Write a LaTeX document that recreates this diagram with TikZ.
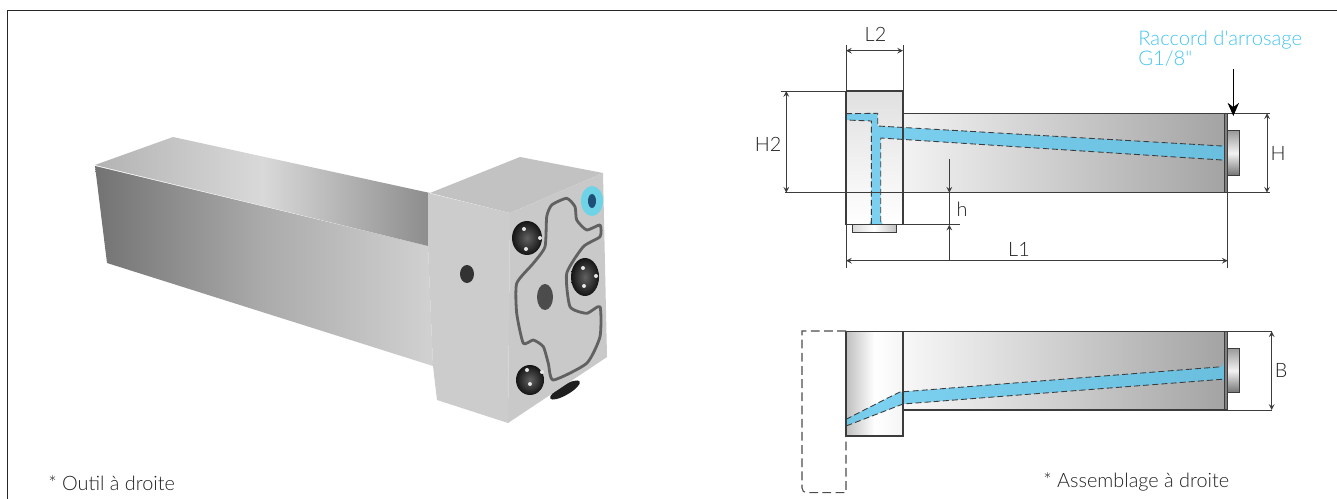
\documentclass[tikz,border=0pt]{standalone}
\usepackage{fontspec}
\setmainfont{Lato Light}[Ligatures=TeXOff]
\usetikzlibrary{arrows.meta}
\definecolor{coolblue}{HTML}{5CC6EE}
\definecolor{labelblue}{HTML}{45C4EE}
\definecolor{labelgrey}{HTML}{222222}
\definecolor{edgegrey}{HTML}{3C3C3C}
\definecolor{ringblue}{HTML}{6FD3E8}
\definecolor{boreblue}{HTML}{1F4E79}
\tikzset{
    >=stealth,
    dimline/.style={line width=0.45pt,color=edgegrey},
    outline/.style={line width=0.7pt,color=edgegrey},
    coolant/.style={fill=coolblue,fill opacity=0.8,draw=none},
    coolantedge/.style={line width=0.5pt,color=edgegrey,dash pattern=on 3.4pt off 1.8pt},
    dimlabel/.style={inner sep=0pt,text=labelgrey,font=\fontsize{11.3}{13}\selectfont},
    noteblue/.style={inner sep=0pt,anchor=north west,align=left,text=labelblue,font=\fontsize{11.5}{10.4}\selectfont},
    screw/.style={inner color=black!62,outer color=black!92},
    glint/.style={fill=white!80!gray,draw=none},
}

\begin{document}
\begin{tikzpicture}[x=0.02cm,y=-0.02cm]
            \useasboundingbox (0,0) rectangle (1337,499);
            \draw[line width=0.9pt,color=black!85] (7.5,499)--(7.5,10.5)--(1337,10.5);

            \shade[left color=black!55,right color=black!18,middle color=black!33] (95,166)--(428,246)--(433,366)--(107,263)--cycle;
            \shade[left color=black!30,right color=black!45,middle color=black!15] (95,165)--(173,137)--(430,193)--(428,246)--cycle;
            \fill[black!24] (430,193)--(520,157)--(603,173)--(510,213)--cycle;
            \fill[black!20] (428,193)--(510,213)--(508,423)--(437,400)--(433,366)--(428,246)--cycle;
            \fill[black!88,rotate around={30:(565,390)}] (565,390) ellipse [x radius=17,y radius=5];
            \fill[black!21] (510,213)--(603,173)--(607,357)--(508,423)--cycle;
            \fill[black!80] (467,274) ellipse [x radius=7,y radius=9];
            \fill[black!70] (545,297) ellipse [x radius=8,y radius=13];
            \draw[line width=1.6pt,black!62,line join=round] plot [smooth cycle, tension=0.35] coordinates { (546.7,216.7) (551.7,205) (566.7,198.3) (575,206.7) (576.7,220) (586.7,230) (600,225) (600,236.7) (583.3,246.7) (566.7,273.3) (570,306.7) (586.7,313.3) (600,306.7) (600,336.7) (586.7,363.3) (553.3,380) (548.3,363.3) (543.3,346.7) (533.3,340) (523.3,343.3) (516.7,313.3) (516.7,283.3) (533.3,263.3) (545,246.7) };
            \shade[screw] (527,238) ellipse [x radius=15,y radius=17];
            \shade[screw] (585,277) ellipse [x radius=14,y radius=19];
            \shade[screw] (530,380) ellipse [x radius=14,y radius=15];
            \foreach \gx/\gy in {524/229,540/238,526/249,583/268,596/276,584/286,527/370,542/372,530/384}
                \fill[glint] (\gx,\gy) circle (2);
            \fill[ringblue] (592,201) ellipse [x radius=11,y radius=15];
            \fill[boreblue] (592,201) ellipse [x radius=4,y radius=7];

            \shade[bottom color=white,top color=black!12] (846,91) rectangle (903,224.7);
            \shade[left color=black!5,right color=black!36] (903,113.3) rectangle (1224.3,192.7);
            \fill[black!50] (1224.3,113.3) rectangle (1227.7,192.7);
            \shade[top color=black!40,bottom color=black!55,middle color=black!5] (1227.7,130.7) rectangle (1239,175.7);
            \shade[left color=black!15,right color=black!25,middle color=white] (852,224.7) rectangle (896.7,232);
            \fill[coolant] (846,113.7)--(877.7,113.3)--(877.7,126)--(1222,146)--(1224.3,144)--(1224.3,161)--(1222,160)--(880.7,138)--(880.7,220)--(883,224.7)--(869,224.7)--(871.3,220)--(871.3,121)--(846,120)--cycle;
            \draw[coolantedge] (846,113.7)--(877.7,113.3)--(877.7,126)--(1222,146);
            \draw[coolantedge] (1222,160)--(880.7,138)--(880.7,224);
            \draw[coolantedge] (871.3,224)--(871.3,121)--(846,120);
            \draw[outline] (846,91)--(903,91)--(903,113.3)--(1227.7,113.3)--(1227.7,192.7)--(846,192.7);
            \draw[outline] (903,113.3)--(903,224.7)--(846,224.7)--(846,91);
            \draw[outline] (1224.3,113.3)--(1224.3,192.7);
            \draw[outline,line width=0.5pt] (1227.7,130.7)--(1239,130.7)--(1239,175.7)--(1227.7,175.7);
            \draw[outline,line width=0.5pt] (852,224.7)--(852,232)--(896.7,232)--(896.7,224.7);

            \draw[dimline] (846,45)--(846,268);
            \draw[dimline] (903,45)--(903,91);
            \draw[dimline,<->] (846,50.7)--(903,50.7);
            \node[dimlabel] (labeltwo) at (875.5,34) {L2};
            \draw[dimline] (780.7,91)--(846,91);
            \draw[dimline] (785,192.7)--(846,192.7);
            \draw[dimline,<->] (786.3,91)--(786.3,192.7);
            \node[dimlabel] (labelheadh) at (768,144) {H2};
            \draw[dimline,->] (949.3,159.3)--(949.3,192.7);
            \draw[dimline] (949.3,192.7)--(949.3,224.7);
            \draw[dimline] (896.7,224.7)--(960,224.7);
            \draw[dimline,->] (949.3,260.7)--(949.3,224.7);
            \node[dimlabel] (labelh) at (962,209) {h};
            \draw[dimline] (1227.7,192.7)--(1227.7,268);
            \draw[dimline,<->] (846,260.7)--(1227.7,260.7);
            \node[dimlabel] (labelone) at (1019,249) {L1};
            \draw[dimline] (1227.7,113.3)--(1270,113.3);
            \draw[dimline] (1227.7,192.7)--(1270,192.7);
            \draw[dimline,<->] (1267,113.3)--(1267,192.7);
            \node[dimlabel] (labelbodyh) at (1278,153) {H};
            \node[noteblue] (labelhose) at (1138,30) {Raccord d'arrosage\\G1/8"};
            \coordinate (hosestart) at (1233.3,69.3);
            \coordinate (hoseend) at (1233.3,116);
            \draw[line width=0.5pt,-{Stealth[length=7.5pt,width=6.5pt]}] (hosestart)--(hoseend);

            \shade[left color=black!25,right color=black!4,middle color=white] (846,331.3) rectangle (903,436);
            \shade[left color=black!3,right color=black!36] (903,331.3) rectangle (1224.3,410);
            \fill[black!50] (1224.3,331.3) rectangle (1227.7,410);
            \shade[top color=black!40,bottom color=black!55,middle color=black!5] (1227.7,348.3) rectangle (1239,392.7);
            \fill[coolant] (846,419.3)--(887.7,398)--(900,392)--(1222,366.7)--(1224.3,361)--(1224.3,382)--(1222,379.3)--(903,404)--(846,426)--cycle;
            \draw[coolantedge] (846,419.3)--(887.7,398)--(900,392)--(1222,366.7);
            \draw[coolantedge] (1222,379.3)--(903,404)--(846,426);
            \draw[outline] (846,331.3)--(1227.7,331.3)--(1227.7,410)--(903,410);
            \draw[outline] (903,331.3)--(903,436)--(846,436)--(846,331.3);
            \draw[outline] (1224.3,331.3)--(1224.3,410);
            \draw[outline,line width=0.5pt] (1227.7,348.3)--(1239,348.3)--(1239,392.7)--(1227.7,392.7);
            \draw[line width=0.6pt,color=black!70,dash pattern=on 5pt off 2.5pt] (846,331)--(802,331)--(802,488) .. controls (802,491) and (804,492.7) .. (807,492.7)--(846,492.7)--(846,436);
            \draw[dimline] (1227.7,331.3)--(1271.7,331.3);
            \draw[dimline] (1227.7,410)--(1271.7,410);
            \draw[dimline,<->] (1271.7,331.3)--(1271.7,410);
            \node[dimlabel] (labelb) at (1281,370) {B};

            \node[dimlabel,anchor=west] (noteassembly) at (1043,482) {* Assemblage à droite};
            \node[dimlabel,anchor=west] (notetool) at (48,483) {* Outil à droite};
\end{tikzpicture}
\end{document}
